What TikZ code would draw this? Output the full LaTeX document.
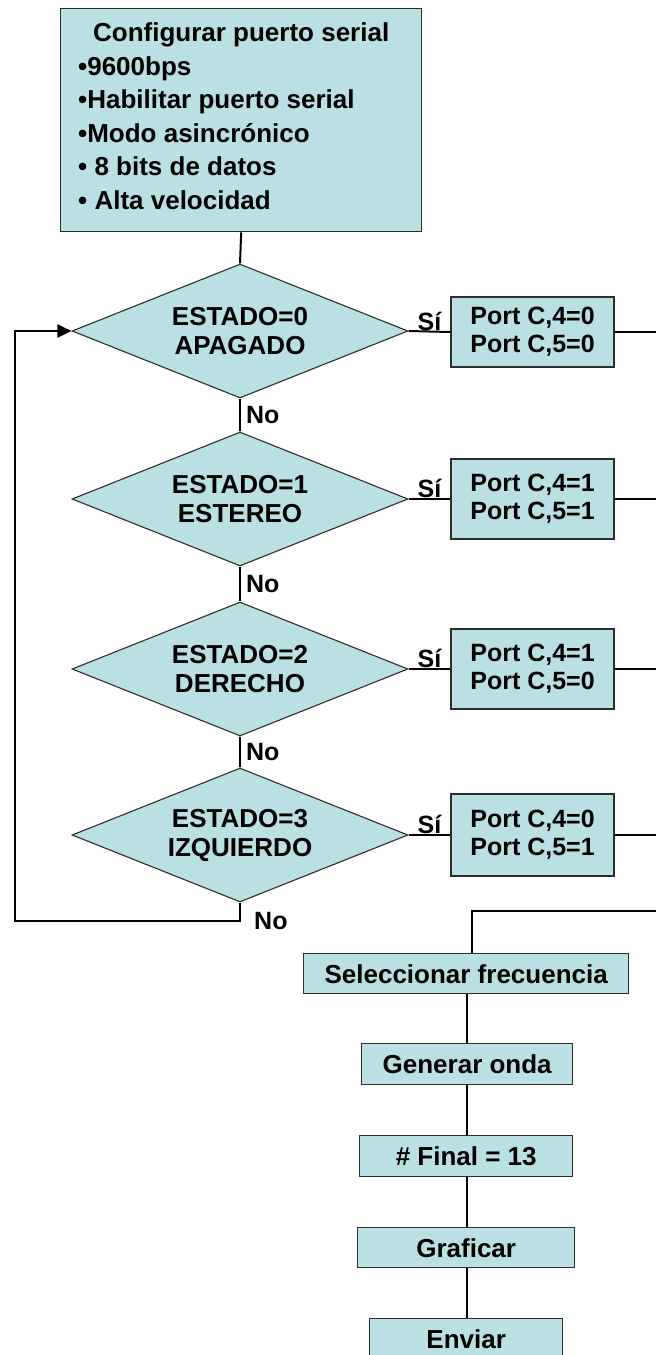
\documentclass[tikz,border=0pt]{standalone}
\usepackage{fontspec}
\setmainfont{Liberation Sans}
\usetikzlibrary{shapes.geometric,arrows.meta,calc}
\definecolor{boxfill}{RGB}{186,224,228}
\definecolor{edgecol}{RGB}{45,45,45}
\begin{document}
\begin{tikzpicture}[x=1pt,y=-1pt,
  font=\fontsize{26}{30}\selectfont\bfseries,
  stepbox/.style={draw=edgecol, line width=1.4pt, fill=boxfill, inner sep=0pt, anchor=north west},
  portbox/.style={draw=edgecol, line width=1.4pt, fill=boxfill, inner sep=0pt, minimum width=163pt, align=center, font=\fontsize{25}{28}\selectfont\bfseries},
  decision/.style={diamond, aspect=2.5, draw=edgecol, line width=1.1pt, fill=boxfill, inner sep=0pt, minimum width=336pt, minimum height=134pt, align=center, font=\fontsize{26}{29}\selectfont\bfseries},
  conn/.style={draw=black, line width=2pt},
  lbl/.style={inner sep=0pt, font=\fontsize{25}{28}\selectfont\bfseries}]
\useasboundingbox (0,0) rectangle (656,1355);
\clip (0,0) rectangle (656,1355);

% top box
\node[stepbox, minimum width=361pt, minimum height=223pt] (cfg) at (60,8)
 {\begin{minipage}{326pt}\fontsize{26}{33.6}\selectfont\bfseries
  {\centering Configurar puerto serial\par}\raggedright
  •9600bps\par
  •Habilitar puerto serial\par
  •Modo asincrónico\par
  • 8 bits de datos\par
  • Alta velocidad\par\vspace{8pt}\end{minipage}};

% decisions
\node[decision] (d0) at (240,331) {ESTADO=0\\APAGADO};
\node[decision] (d1) at (240,499) {ESTADO=1\\ESTEREO};
\node[decision] (d2) at (240,669) {ESTADO=2\\DERECHO};
\node[decision] (d3) at (240,835) {ESTADO=3\\IZQUIERDO};

% port boxes
\node[portbox, minimum height=70pt] (p0) at (532.5,332) {Port C,4=0\\Port C,5=0};
\node[portbox, minimum height=80pt] (p1) at (532.5,499) {Port C,4=1\\Port C,5=1};
\node[portbox, minimum height=80pt] (p2) at (532.5,669) {Port C,4=1\\Port C,5=0};
\node[portbox, minimum height=82pt] (p3) at (532.5,835) {Port C,4=0\\Port C,5=1};

% lower boxes
\node[stepbox, minimum width=325pt, minimum height=40pt] (sel) at (303,953) {Seleccionar frecuencia};
\node[stepbox, minimum width=211pt, minimum height=41pt] (gen) at (361,1043) {Generar onda};
\node[stepbox, minimum width=213pt, minimum height=41pt] (fin) at (359,1135) {\# Final = 13};
\node[stepbox, minimum width=217pt, minimum height=40pt] (gra) at (357,1227) {Graficar};
\node[stepbox, minimum width=193pt, minimum height=40pt] (env) at (369,1318) {Enviar};

% coordinates
\coordinate (r0) at (656,332);
\coordinate (r1) at (656,499);
\coordinate (r2) at (656,669);
\coordinate (r3) at (656,835);
\coordinate (rin) at (656,911);
\coordinate (loopb) at (240,921);
\coordinate (loopl) at (15,921);

% connectors
\draw[conn] (cfg.south) -- (d0.north);
\draw[conn] (d0.south) -- node[lbl, anchor=west, xshift=5pt] {No} (d1.north);
\draw[conn] (d1.south) -- node[lbl, anchor=west, xshift=5pt] {No} (d2.north);
\draw[conn] (d2.south) -- node[lbl, anchor=west, xshift=5pt] {No} (d3.north);

\draw[conn] (d0.east) -- node[lbl, anchor=south, pos=0.5] {Sí} (p0.west);
\draw[conn] (d1.east) -- node[lbl, anchor=south, pos=0.5] {Sí} (p1.west);
\draw[conn] (d2.east) -- node[lbl, anchor=south, pos=0.5] {Sí} (p2.west);
\draw[conn] (d3.east) -- node[lbl, anchor=south, pos=0.5] {Sí} (p3.west);

\draw[conn] (p0.east) -- (r0);
\draw[conn] (p1.east) -- (r1);
\draw[conn] (p2.east) -- (r2);
\draw[conn] (p3.east) -- (r3);

\draw[conn, -{Triangle[length=14pt,width=13pt]}] (d3.south) -- (loopb) -- (loopl) |- (d0.west);
\node[lbl, anchor=west] (nolast) at (254,921) {No};

\draw[conn] (rin) -| ($(sel.north)+(6,0)$);
\draw[conn] (gen.north |- sel.south) -- (gen.north);
\draw[conn] (gen.south) -- (fin.north -| gen.south);
\draw[conn] (fin.south -| gen.south) -- (gra.north -| gen.south);
\draw[conn] (gra.south -| gen.south) -- (env.north -| gen.south);
\end{tikzpicture}
\end{document}
